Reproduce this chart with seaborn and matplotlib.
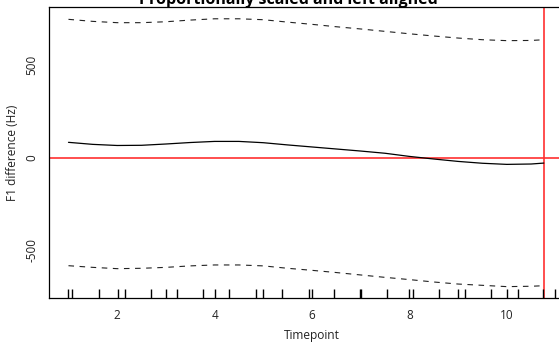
import numpy as np
import pandas as pd
import matplotlib
matplotlib.use("Agg")
import matplotlib.pyplot as plt
import seaborn as sns

# ---- data ----
timepoint = [1.0, 1.5, 2.0, 2.5, 3.0, 3.5, 4.0, 4.5, 5.0, 5.5, 6.0, 6.5, 7.0,
             7.5, 8.0, 8.5, 9.0, 9.5, 10.0, 10.5, 10.76]
fit = [83, 72, 66, 67, 74, 82, 88, 88, 81, 69, 58, 47, 36, 24, 7, -7, -20,
       -30, -36, -34, -29]
upper = [747, 736, 729, 729, 734, 743, 750, 750, 745, 732, 720, 707, 695,
         682, 669, 657, 646, 637, 632, 633, 637]
lower = [-583, -592, -599, -597, -592, -584, -579, -579, -584, -597, -608,
         -620, -633, -646, -658, -671, -682, -689, -696, -694, -691]
rug_points = [1.0, 1.07, 1.62, 2.01, 2.16, 2.70, 3.01, 3.23, 3.76, 4.0, 4.30,
              4.85, 4.99, 5.38, 5.93, 6.0, 6.46, 6.99, 7.01, 7.55, 7.99, 8.07,
              8.61, 9.0, 9.15, 9.68, 10.0, 10.23, 10.75, 10.99]
x_ticks = [2, 4, 6, 8, 10]
y_ticks = [-500, 0, 500]
vline_x = 10.76
title = "Proportionally scaled and left aligned"
x_label = "Timepoint"
y_label = "F1 difference (Hz)"

df = pd.DataFrame({"Timepoint": timepoint, "fit": fit, "upper": upper, "lower": lower})

sns.set_style("white")
plt.rcParams["font.family"] = ["Open Sans", "DejaVu Sans"]

fig = plt.figure(figsize=(5.59, 3.43), dpi=100)
ax = fig.add_axes([49 / 559, 1 - 298.3 / 343, (575 - 49) / 559, (298.3 - 7.3) / 343])

sns.lineplot(data=df, x="Timepoint", y="fit", ax=ax, color="black", lw=0.9)
sns.lineplot(data=df, x="Timepoint", y="upper", ax=ax, color="#222222", lw=0.8,
             linestyle=(0, (5, 5)))
sns.lineplot(data=df, x="Timepoint", y="lower", ax=ax, color="#222222", lw=0.8,
             linestyle=(0, (5, 5)))
sns.rugplot(x=rug_points, ax=ax, height=0.031, color="black", lw=1.6, expand_margins=False)

ax.axhline(0, color="#ff3030", lw=1.2, zorder=1)
ax.axvline(vline_x, color="#ff3030", lw=1.2, zorder=1)

ax.set_xlim(0.6, 11.4)
ax.set_ylim(-759, 812)
ax.set_xticks(x_ticks)
ax.set_yticks(y_ticks)
ax.set_yticklabels([str(v) for v in y_ticks], rotation=90, va="center")
ax.tick_params(axis="both", direction="out", length=4, width=0.8, colors="#222222",
               labelsize=8.5, labelcolor="#222222")
ax.tick_params(axis="x", pad=3.5)
ax.tick_params(axis="y", pad=3.5)
ax.set_xlabel(x_label, fontsize=8.6, color="#222222", labelpad=5.5)
ax.set_ylabel(y_label, fontsize=8.6, color="#222222")
ax.yaxis.set_label_coords((19 - 49) / 526, 0.5)
for s in ax.spines.values():
    s.set_color("black")
    s.set_linewidth(0.9)

fig.text(288 / 559, 1 - 4 / 343, title, ha="center", va="baseline",
         fontsize=11.5, fontweight="bold", color="black")

fig.savefig("out.png", dpi=100)
